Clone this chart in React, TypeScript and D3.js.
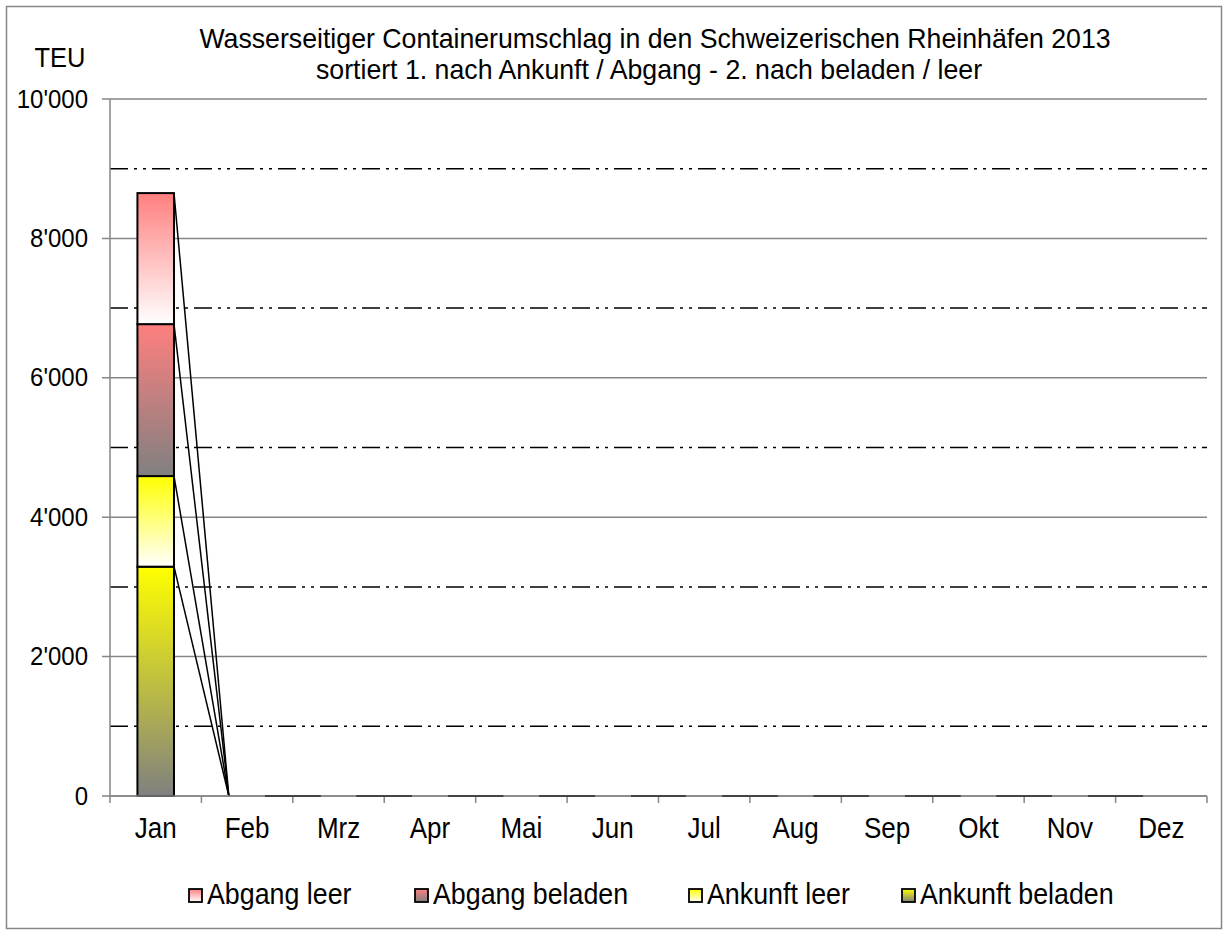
import React, { useEffect } from 'react';
import * as d3 from 'd3';

// data (TEU)
const months = ['Jan', 'Feb', 'Mrz', 'Apr', 'Mai', 'Jun', 'Jul', 'Aug', 'Sep', 'Okt', 'Nov', 'Dez'];
const ankunftBeladen = [3290, 0, 0, 0, 0, 0, 0, 0, 0, 0, 0, 0];
const ankunftLeer = [1300, 0, 0, 0, 0, 0, 0, 0, 0, 0, 0, 0];
const abgangBeladen = [2180, 0, 0, 0, 0, 0, 0, 0, 0, 0, 0, 0];
const abgangLeer = [1880, 0, 0, 0, 0, 0, 0, 0, 0, 0, 0, 0];
const majorTicks = [0, 2000, 4000, 6000, 8000, 10000];
const minorTicks = [1000, 3000, 5000, 7000, 9000];

const seriesNames = ['Ankunft beladen', 'Ankunft leer', 'Abgang beladen', 'Abgang leer'];
const seriesValues = [ankunftBeladen, ankunftLeer, abgangBeladen, abgangLeer];
// gradient top / bottom per series
const seriesTop = ['#ffff00', '#ffff00', '#ff7f7f', '#ff7f7f'];
const seriesBottom = ['#808080', '#ffffff', '#808080', '#ffffff'];

const legendOrder = [3, 2, 1, 0];
const legendX = [189, 415, 689, 902];

const W = 1229;
const H = 935;
const margin = { top: 99, bottom: 139, left: 110, right: 22 };
const font = '"Liberation Sans", Arial, sans-serif';
const axisGrey = '#868686';

const fmt = (v: number) => d3.format(',')(v).replace(/,/g, "'");

// the reference text is a little taller than it is wide
const Txt = ({ x, y, size, anchor = 'start', stretch = 1.1, children }: any) => (
  <text transform={`translate(${x},${y}) scale(1,${stretch})`} textAnchor={anchor} fontSize={size} fill="#000">
    {children}
  </text>
);

export default function App() {
  useEffect(() => {
    document.body.style.margin = '0';
  }, []);

  const x = d3.scaleBand<string>()
    .domain(months)
    .range([margin.left, W - margin.right])
    .padding(0);
  const bw = x.bandwidth();
  const barW = bw * 0.4;
  const barX = (m: string) => (x(m) as number) + (bw - barW) / 2;

  const y = d3.scaleLinear()
    .domain([0, 10000])
    .range([H - margin.bottom, margin.top]);

  const stack = d3.stack<number>()
    .keys(seriesNames.map((_, i) => String(i)))
    .value((d, key) => seriesValues[+key][d]);
  const layers = stack(months.map((_, i) => i));

  const x0 = margin.left;
  const x1 = W - margin.right;
  const y0 = y(0);

  return (
    <svg width={W} height={H} style={{ display: 'block', fontFamily: font }}>
      <defs>
        {seriesNames.map((_, i) => (
          <linearGradient key={i} id={'g' + i} x1="0" y1="0" x2="0" y2="1">
            <stop offset="0%" stopColor={seriesTop[i]} />
            <stop offset="100%" stopColor={seriesBottom[i]} />
          </linearGradient>
        ))}
      </defs>
      <rect x={6.5} y={6.5} width={1215} height={922} fill="#fff" stroke={axisGrey} strokeWidth={1.5} />

      {/* title */}
      <Txt x={655} y={48} size={26.7} anchor="middle" stretch={1.05}>
        Wasserseitiger Containerumschlag in den Schweizerischen Rheinhäfen 2013
      </Txt>
      <Txt x={649} y={79} size={26.7} anchor="middle" stretch={1.05}>
        sortiert 1. nach Ankunft / Abgang - 2. nach beladen / leer
      </Txt>
      <Txt x={60} y={67} size={25.5} anchor="middle">TEU</Txt>

      {/* grid */}
      {majorTicks.map(t => (
        <g key={'M' + t}>
          <line x1={x0 - 8} x2={x1} y1={y(t)} y2={y(t)} stroke={axisGrey} strokeWidth={1.5} />
          <Txt x={88} y={y(t) + 8.5} size={24} anchor="end">{fmt(t)}</Txt>
        </g>
      ))}
      {minorTicks.map(t => (
        <line key={'m' + t} x1={x0} x2={x1} y1={y(t)} y2={y(t)} stroke="#000" strokeWidth={1.5}
          strokeDasharray="18,6,3,6,3,6" />
      ))}
      <line x1={x0} x2={x0} y1={y(10000)} y2={y0} stroke={axisGrey} strokeWidth={1.5} />

      {/* bars */}
      {layers.map((layer, i) => layer.map((d, j) => (
        d[1] - d[0] > 0 ? (
          <rect key={i + '-' + j} x={barX(months[j])} y={y(d[1])} width={barW} height={y(d[0]) - y(d[1])}
            fill={`url(#g${i})`} stroke="#000" strokeWidth={2} />
        ) : null
      )))}

      {/* series lines between bars */}
      {layers.map((layer, i) => months.slice(0, -1).map((m, j) => (
        <line key={'s' + i + '-' + j} x1={barX(m) + barW} y1={y(layer[j][1])}
          x2={barX(months[j + 1])} y2={y(layer[j + 1][1])} stroke="#000" strokeWidth={1.5} />
      )))}

      {/* x axis */}
      <line x1={x0} x2={x1} y1={y0} y2={y0} stroke={axisGrey} strokeWidth={1.5} />
      {[...months.map(m => x(m) as number), x1].map((v, i) => (
        <line key={'t' + i} x1={v} x2={v} y1={y0} y2={y0 + 7} stroke={axisGrey} strokeWidth={1.5} />
      ))}
      {layers.map((layer, i) => months.slice(1, -1).map((m, j) => (
        <line key={'z' + i + '-' + j} x1={barX(m) + barW} x2={barX(months[j + 2])} y1={y0} y2={y0}
          stroke="#444" strokeWidth={2} />
      )))}
      {months.map(m => (
        <Txt key={m} x={(x(m) as number) + bw / 2} y={838} size={26} anchor="middle">{m}</Txt>
      ))}

      {/* legend */}
      {legendOrder.map((s, k) => (
        <g key={'l' + s}>
          <rect x={legendX[k]} y={889} width={13} height={13} fill={`url(#g${s})`} stroke="#000" strokeWidth={1.8} />
          <Txt x={legendX[k] + 18} y={904} size={26.8}>{seriesNames[s]}</Txt>
        </g>
      ))}
    </svg>
  );
}
